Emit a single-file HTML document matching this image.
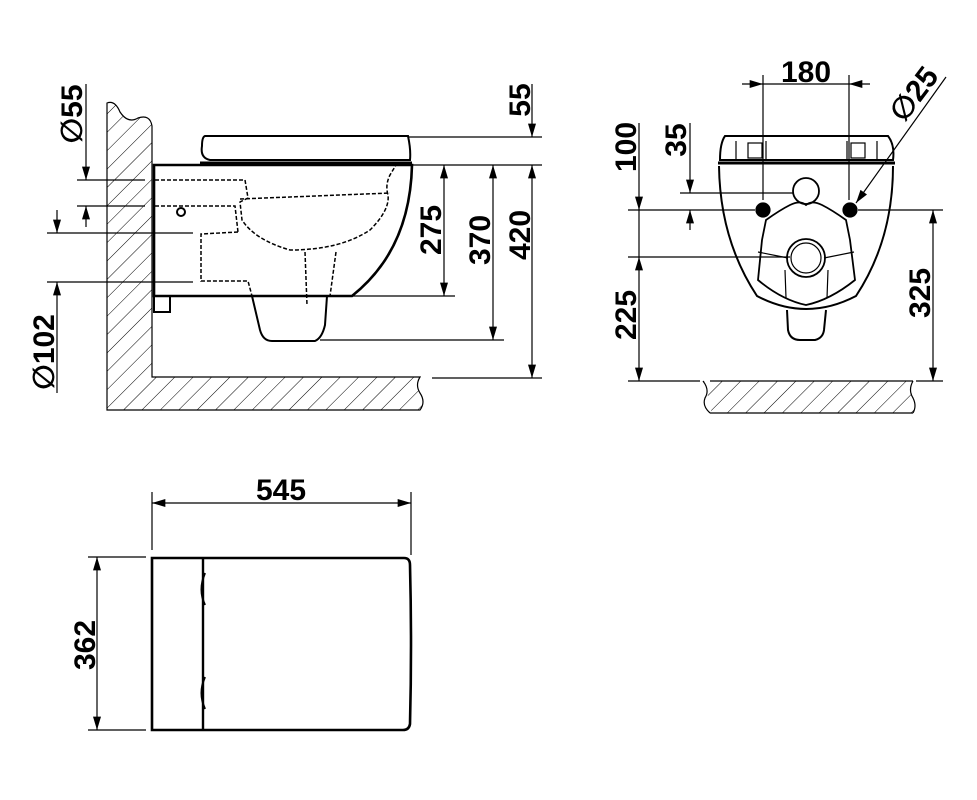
<!DOCTYPE html>
<html><head><style>
html,body{margin:0;padding:0;background:#fff;}
svg{display:block;}
text{font-family:"Liberation Sans","DejaVu Sans",sans-serif;font-weight:bold;font-size:30px;fill:#000;text-anchor:middle;}
</style></head><body>
<svg width="977" height="800" viewBox="0 0 977 800" xmlns="http://www.w3.org/2000/svg">
<defs>
<pattern id="h" patternUnits="userSpaceOnUse" width="13" height="13" patternTransform="rotate(45)">
<line x1="0" y1="0" x2="0" y2="13" stroke="#000" stroke-width="1"/>
</pattern>
<marker id="a" viewBox="0 0 10 6" refX="10" refY="3" markerWidth="22" markerHeight="8" markerUnits="userSpaceOnUse" orient="auto-start-reverse">
<path d="M0,0 L10,3 L0,6 Z" fill="#000"/>
</marker>
</defs>
<g fill="none" stroke="#000" stroke-width="1.2">
<path d="M107,103 Q115,100 120,112 Q128,124 138,118 Q150,114 152,126 L152,377 L420,377 Q415,385 420,393 Q426,402 420,410 L107,410 Z" fill="url(#h)"/>
<path d="M154,165 L412,165 Q410,250 352,296 L154,296 Z" stroke-width="2.6" fill="#fff"/>
<path d="M154,296 L154,312 L170,312 L170,296" stroke-width="2"/>
<path d="M205,136 L408,136 Q411,150 410,160 L210,160 Q200,158 202,146 Q202,137 205,136 Z" stroke-width="2" fill="#fff"/>
<line x1="200" y1="163" x2="412" y2="163" stroke-width="3"/>
<path d="M252,296 L260,330 Q263,341 272,341 L315,341 Q322,338 325,325 L327,296" stroke-width="2"/>
<g stroke-dasharray="4,2" stroke-width="1.5">
<path d="M155,180 L245,180 L248,198 L240,202 L242,220 Q255,240 290,250 Q340,250 370,230 Q390,210 388,195 Q385,185 390,175 L396,165"/>
<path d="M240,199 L390,193"/>
<path d="M155,206 L235,206 L238,232"/>
<path d="M238,232 L201,234 L201,281 L248,281 L252,296"/>
<path d="M305,252 L307,305"/>
<path d="M336,252 L330,296"/>
</g>
<circle cx="181" cy="212" r="4" stroke-width="2"/>
<line x1="77" y1="180" x2="145" y2="180"/>
<line x1="77" y1="206" x2="145" y2="206"/>
<line x1="47" y1="233" x2="193" y2="233"/>
<line x1="47" y1="282" x2="193" y2="282"/>
<line x1="86" y1="84" x2="86" y2="180" marker-end="url(#a)"/>
<line x1="86" y1="227" x2="86" y2="206" marker-end="url(#a)"/>
<line x1="57" y1="210" x2="57" y2="233" marker-end="url(#a)"/>
<line x1="57" y1="393" x2="57" y2="282" marker-end="url(#a)"/>
<line x1="408" y1="137" x2="542" y2="137"/>
<line x1="410" y1="165" x2="542" y2="165"/>
<line x1="352" y1="296" x2="455" y2="296"/>
<line x1="320" y1="340" x2="504" y2="340"/>
<line x1="432" y1="378" x2="542" y2="378"/>
<line x1="444" y1="165" x2="444" y2="296" marker-start="url(#a)" marker-end="url(#a)"/>
<line x1="493" y1="165" x2="493" y2="340" marker-start="url(#a)" marker-end="url(#a)"/>
<line x1="532" y1="165" x2="532" y2="378" marker-start="url(#a)" marker-end="url(#a)"/>
<line x1="532" y1="84" x2="532" y2="137" marker-end="url(#a)"/>

<path d="M703,381 L913,381 Q908,388 913,396 Q918,405 913,413 L710,413 Q715,405 708,396 Q703,388 703,381 Z" fill="url(#h)" stroke="none"/>
<line x1="710" y1="381" x2="913" y2="381"/>
<line x1="710" y1="413" x2="913" y2="413"/>
<path d="M703,381 Q710,390 705,398 Q702,406 710,413"/>
<path d="M913,381 Q908,390 913,398 Q917,406 913,413"/>
<path d="M720,160 Q720,143 725,136 L888,136 Q895,145 893,160 Z" stroke-width="2" fill="#fff"/>
<line x1="718" y1="163" x2="895" y2="163" stroke-width="3"/>
<rect x="748" y="143" width="14" height="15"/>
<rect x="851" y="143" width="14" height="15"/>
<line x1="766" y1="141" x2="766" y2="160"/>
<line x1="847" y1="141" x2="847" y2="160"/>
<line x1="736" y1="141" x2="736" y2="160"/>
<line x1="877" y1="141" x2="877" y2="160"/>
<path d="M719,166 Q720,240 757,296 Q806,322 856,296 Q893,240 893,166" stroke-width="2"/>
<path d="M787,310 L788,330 Q790,340 800,340 L815,340 Q823,338 824,330 L826,310" stroke-width="2"/>
<path d="M766,220 Q780,210 790,205 Q800,200 806,205 Q812,200 822,205 Q832,210 846,220 L850,240 L855,280 Q830,300 806,305 Q782,300 758,280 L762,240 Z" stroke-width="1.8"/>
<path d="M758,252 L788,258 M854,252 L824,258 M785,270 L786,298 M828,270 L827,298"/>
<circle cx="806" cy="191" r="13" stroke-width="1.8"/>
<circle cx="806" cy="258" r="19" stroke-width="1.8"/>
<circle cx="806" cy="258" r="15"/>
<circle cx="763" cy="210" r="7" fill="#000"/>
<circle cx="850" cy="210" r="7" fill="#000"/>
<line x1="763" y1="75" x2="763" y2="200"/>
<line x1="849" y1="75" x2="849" y2="200"/>
<line x1="742" y1="84" x2="763" y2="84" marker-end="url(#a)"/>
<line x1="870" y1="84" x2="849" y2="84" marker-end="url(#a)"/>
<line x1="763" y1="84" x2="849" y2="84"/>
<line x1="946" y1="77" x2="856" y2="203" marker-end="url(#a)"/>
<line x1="628" y1="210" x2="755" y2="210"/>
<line x1="858" y1="210" x2="943" y2="210"/>
<line x1="628" y1="257" x2="790" y2="257"/>
<line x1="628" y1="381" x2="700" y2="381"/>
<line x1="916" y1="381" x2="943" y2="381"/>
<line x1="680" y1="193" x2="793" y2="193"/>
<line x1="639" y1="123" x2="639" y2="210" marker-end="url(#a)"/>
<line x1="639" y1="257" x2="639" y2="381" marker-start="url(#a)" marker-end="url(#a)"/>
<line x1="639" y1="210" x2="639" y2="257"/>
<line x1="690" y1="123" x2="690" y2="193" marker-end="url(#a)"/>
<line x1="690" y1="230" x2="690" y2="210" marker-end="url(#a)"/>
<line x1="933" y1="210" x2="933" y2="381" marker-start="url(#a)" marker-end="url(#a)"/>

<line x1="152" y1="492" x2="152" y2="550"/>
<line x1="411" y1="492" x2="411" y2="555"/>
<line x1="152" y1="503" x2="411" y2="503" marker-start="url(#a)" marker-end="url(#a)"/>
<line x1="88" y1="557" x2="146" y2="557"/>
<line x1="88" y1="730" x2="146" y2="730"/>
<line x1="97" y1="557" x2="97" y2="730" marker-start="url(#a)" marker-end="url(#a)"/>
<path d="M152,558 L404,558 Q410,558 410,565 Q412,645 410,724 Q409,730 403,730 L152,730 Z" stroke-width="2.6"/>
<line x1="203" y1="558" x2="203" y2="730" stroke-width="2.4"/>
<path d="M205,573 Q198,590 205,605 M205,677 Q198,693 205,709" stroke-width="2"/>
</g>
<g>
<text transform="translate(82,114) rotate(-90)">∅55</text>
<text transform="translate(54,352) rotate(-90)">∅102</text>
<text transform="translate(530,100) rotate(-90)">55</text>
<text transform="translate(441,230) rotate(-90)">275</text>
<text transform="translate(490,240) rotate(-90)">370</text>
<text transform="translate(530,235) rotate(-90)">420</text>
<text x="806" y="82">180</text>
<text transform="translate(922,100) rotate(-53)">∅25</text>
<text transform="translate(636,147) rotate(-90)">100</text>
<text transform="translate(686,140) rotate(-90)">35</text>
<text transform="translate(636,315) rotate(-90)">225</text>
<text transform="translate(930,293) rotate(-90)">325</text>
<text x="281" y="500">545</text>
<text transform="translate(95,645) rotate(-90)">362</text>
</g>
</svg>
</body></html>
